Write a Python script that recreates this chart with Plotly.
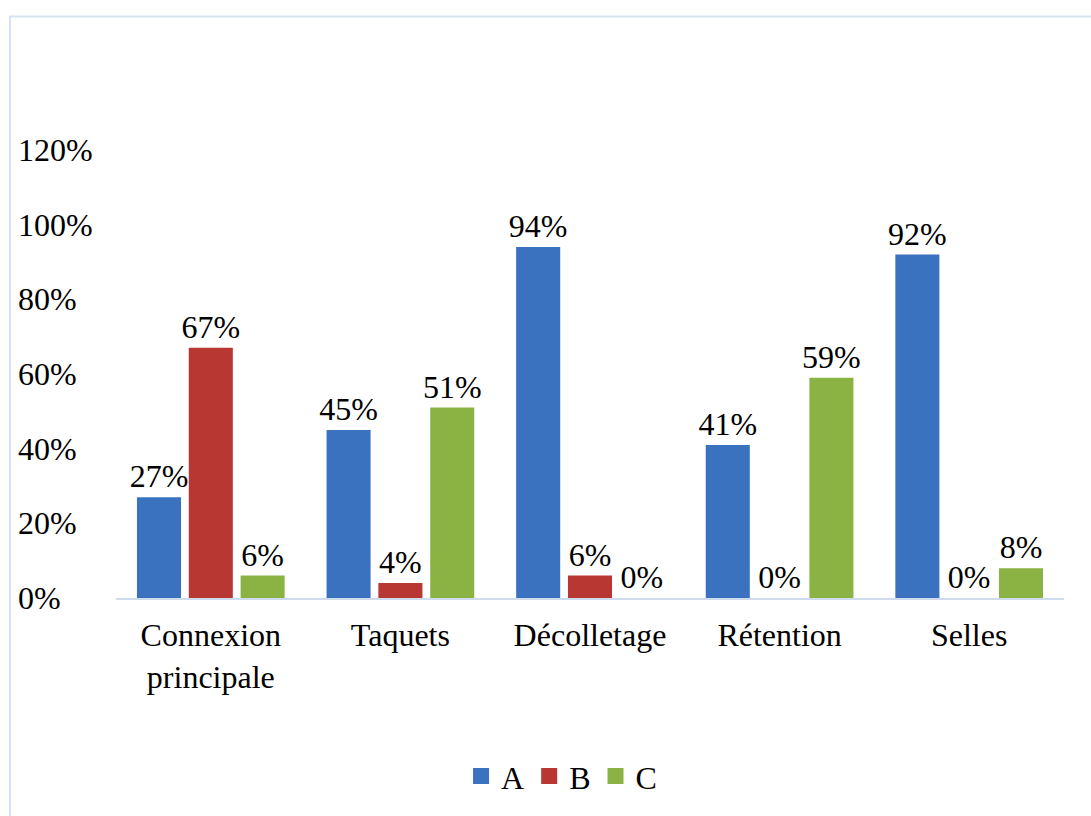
import plotly.graph_objects as go

categories = ["Connexion<br>principale", "Taquets", "Décolletage", "Rétention", "Selles"]
series_names = ["A", "B", "C"]
values_a = [27, 45, 94, 41, 92]
values_b = [67, 4, 6, 0, 0]
values_c = [6, 51, 0, 59, 8]
y_ticks = [0, 20, 40, 60, 80, 100, 120]
y_tick_labels = ["0%", "20%", "40%", "60%", "80%", "100%", "120%"]

colors = ["#3a72bf", "#b93733", "#8bb343"]
font_family = "Liberation Serif"

fig = go.Figure()
for name, vals, col in zip(series_names, [values_a, values_b, values_c], colors):
    fig.add_trace(go.Bar(
        x=categories, y=vals, name=name, showlegend=False,
        marker=dict(color=col, line=dict(width=0)),
        text=[f"{v}%" for v in vals],
        textposition="outside",
        constraintext="none",
        cliponaxis=False,
        textfont=dict(family=font_family, size=32, color="#000000"),
    ))
    # legend entry with a larger square key
    fig.add_trace(go.Scatter(
        x=[None], y=[None], mode="markers", name=name,
        marker=dict(symbol="square", size=17, color=col),
    ))

# left-aligned value-axis labels
for v, lab in zip(y_ticks, y_tick_labels):
    fig.add_annotation(
        x=-0.106, xref="paper", xanchor="left",
        y=v, yref="y", yanchor="middle",
        text=lab, showarrow=False,
        font=dict(family=font_family, size=32, color="#000000"),
    )

# chart frame
fig.add_shape(type="rect", xref="paper", yref="paper",
              x0=-0.1118, x1=1.2, y0=-0.8, y1=1.2978,
              line=dict(color="#d6e2f1", width=2), fillcolor="rgba(0,0,0,0)",
              layer="below")

fig.update_layout(
    width=1091, height=816,
    margin=dict(l=116, r=27, t=150, b=216),
    paper_bgcolor="#ffffff", plot_bgcolor="#ffffff",
    barmode="group", bargap=0.18, bargroupgap=0.15,
    font=dict(family=font_family, size=32, color="#000000"),
    showlegend=True,
    legend=dict(orientation="h", x=0.47, xanchor="center",
                y=-0.398, yanchor="middle",
                font=dict(family=font_family, size=32),
                itemsizing="trace", traceorder="normal"),
    xaxis=dict(showline=True, linecolor="#cfdcee", linewidth=2,
               showgrid=False, zeroline=False,
               ticks="outside", ticklen=8, tickcolor="rgba(0,0,0,0)",
               tickfont=dict(family=font_family, size=32)),
    yaxis=dict(range=[0, 120], tickvals=y_ticks, showticklabels=False,
               showgrid=False, zeroline=False, showline=False),
)

fig.write_html("out.html")
